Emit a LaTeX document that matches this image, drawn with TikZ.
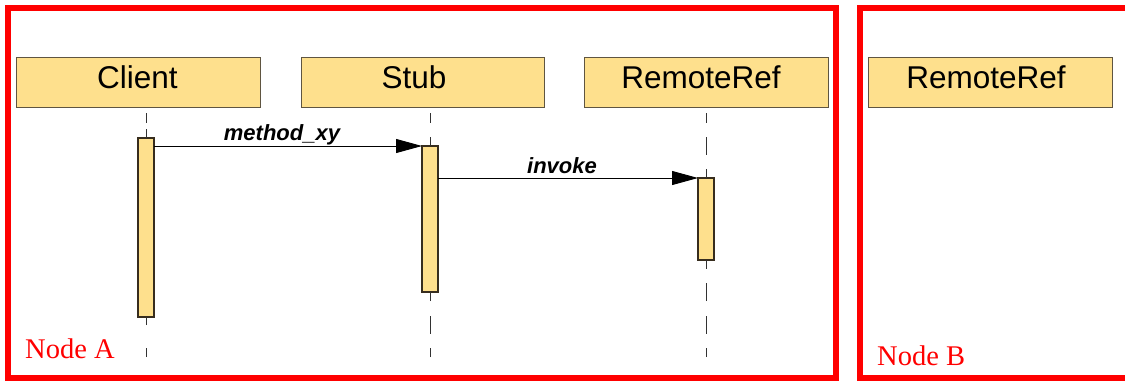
\documentclass[tikz,border=0pt]{standalone}
\usepackage{fontspec}
\setmainfont{Liberation Serif}
\setsansfont{Liberation Sans}
\usetikzlibrary{arrows.meta}
\definecolor{boxfill}{RGB}{254,224,141}
\definecolor{boxline}{RGB}{95,85,65}
\definecolor{actline}{RGB}{55,45,30}
\definecolor{lifecol}{RGB}{50,50,50}
\begin{document}
\begin{tikzpicture}[x=1pt,y=-1pt,
  frame/.style={draw=red,line width=6pt,line join=miter},
  objbox/.style={draw=boxline,fill=boxfill,line width=0.9pt,minimum width=244pt,
    minimum height=50pt,inner sep=0pt,outer sep=0pt,anchor=north west},
  objtext/.style={anchor=base,inner sep=0pt,font=\sffamily\fontsize{31.5}{34}\selectfont},
  actbox/.style={draw=actline,fill=boxfill,line width=1.1pt,minimum width=16pt,
    inner sep=0pt,outer sep=0pt,anchor=north west},
  lifetop/.style={draw=lifecol,line width=1pt,dash pattern=on 18pt off 14pt,dash phase=8pt},
  lifebot/.style={draw=lifecol,line width=1pt,dash pattern=on 18pt off 14.5pt,dash phase=9pt},
  msg/.style={draw=black,line width=0.9pt,-{Triangle[length=26pt,width=14pt]}},
  msglabel/.style={anchor=base,inner sep=0pt,font=\sffamily\bfseries\itshape\fontsize{22}{24}\selectfont},
  framelabel/.style={anchor=base west,inner sep=0pt,text=red,font=\fontsize{28.5}{30}\selectfont}]
\useasboundingbox (0,0) rectangle (1125,381);
\clip (0,0) rectangle (1125,381);

% node frames
\draw[frame] (8,8) rectangle (836,378);
\draw[frame] (860,8) rectangle (1145,378);
\node[framelabel] (nodeA) at (25,358) {Node A};
\node[framelabel] (nodeB) at (877,365) {Node B};

% object heads
\node[objbox] (cbox) at (16,57) {};
\node[objbox,minimum width=243pt] (sbox) at (301,57) {};
\node[objbox] (rbox) at (584,57) {};
\node[objbox] (rboxB) at (868,57) {};
\node[objtext] (ctext) at (137.5,88) {Client};
\node[objtext] (stext) at (414,88) {Stub};
\node[objtext] (rtext) at (701,88) {RemoteRef};
\node[objtext] (rtextB) at (986,88) {RemoteRef};

% lifeline ends
\coordinate (c-top) at (146,113);
\coordinate (s-top) at (430,113);
\coordinate (r-top) at (706,113);
\coordinate (c-bot) at (146,357);
\coordinate (s-bot) at (430,357);
\coordinate (r-bot) at (706,357);

% activation bars
\node[actbox,minimum height=179pt] (cact) at (138,138) {};
\node[actbox,minimum height=146pt] (sact) at (422,146) {};
\node[actbox,minimum height=82pt] (ract) at (698,178) {};

% lifelines
\draw[lifetop,dash pattern=on 10pt off 6pt on 20pt off 10pt,dash phase=0pt] (c-top) -- (cact.north);
\draw[lifetop] (s-top) -- (sact.north);
\draw[lifetop] (r-top) -- (ract.north);
\draw[lifebot,dash pattern=on 9pt off 23pt on 12pt off 10pt,dash phase=0pt] (c-bot) -- (cact.south);
\draw[lifebot] (s-bot) -- (sact.south);
\draw[lifebot] (r-bot) -- (ract.south);

% messages
\draw[msg] (sact.north west -| cact.east) -- (sact.north west);
\draw[msg] (ract.north west -| sact.east) -- (ract.north west);
\node[msglabel] (m1) at (282,140) {method\_xy};
\node[msglabel] (m2) at (562,173) {invoke};
\end{tikzpicture}
\end{document}
